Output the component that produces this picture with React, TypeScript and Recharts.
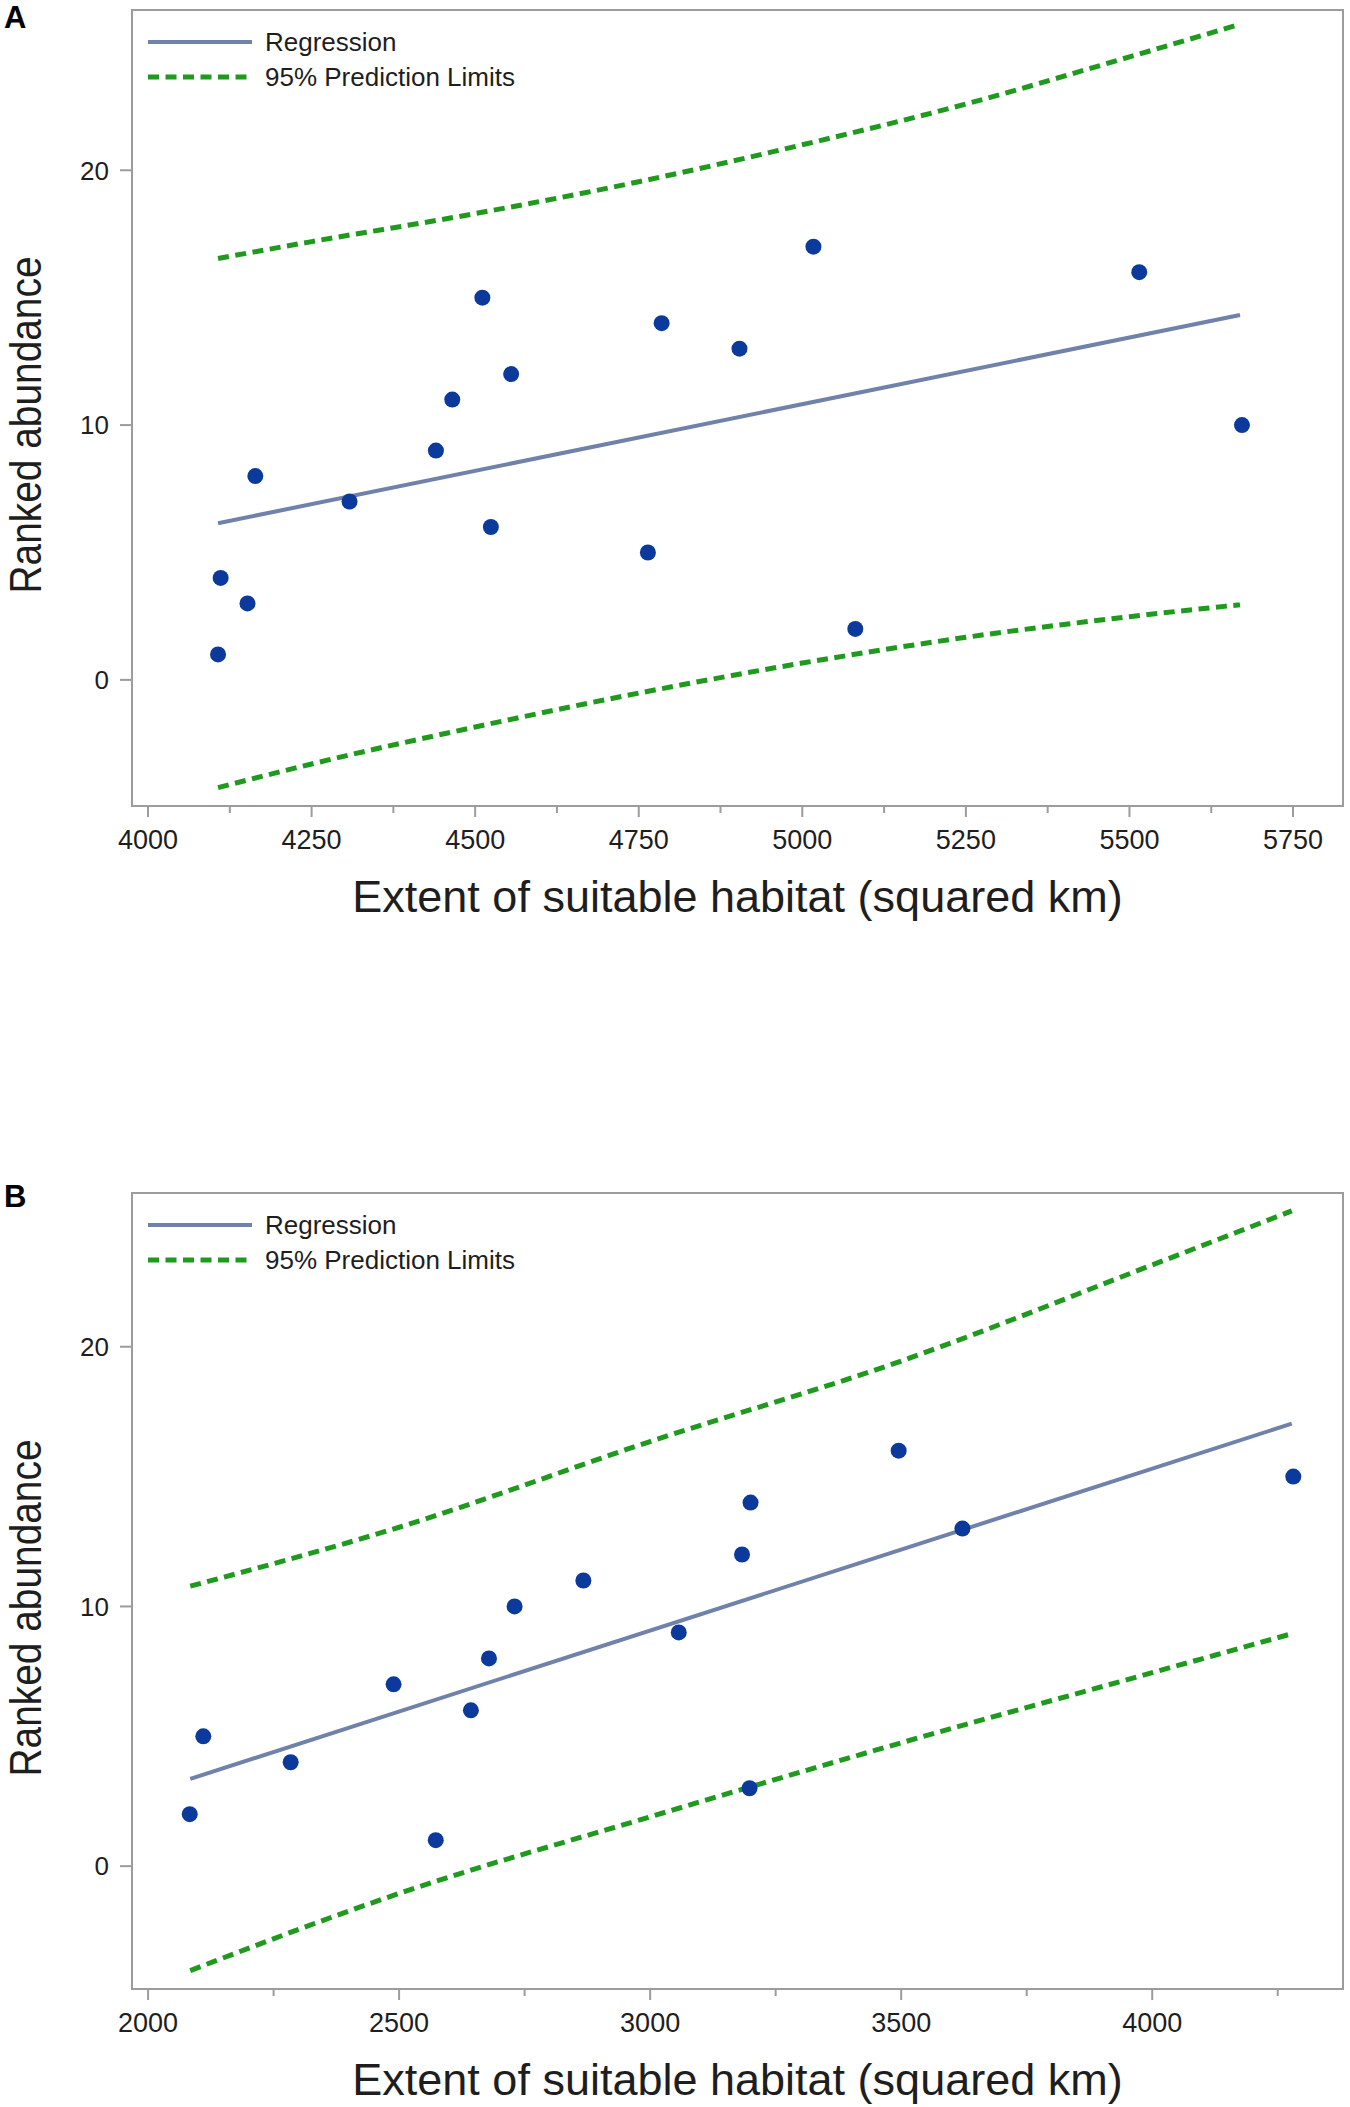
// Two regression panels: ranked abundance vs extent of suitable habitat
// Scatter points, fitted line and 95% prediction limits drawn with Recharts

import {
  ComposedChart,
  Scatter,
  Line,
  XAxis,
  YAxis,
  ReferenceArea,
  Legend,
} from "recharts";

const FONT = '"Liberation Sans", Arial, Helvetica, sans-serif';
const DOT = "#0b3a9c";
const FIT = "#7082aa";
const LIMIT = "#1f9a1f";
const FRAME = "#9c9c9c";
const TEXT = "#1e1e1e";

// Panel A
const habitatA = [4107, 4111, 4152, 4164, 4308, 4440, 4465, 4511, 4524, 4555, 4764, 4785, 4904, 5017, 5081, 5515, 5672];
const rankA = [1, 4, 3, 8, 7, 9, 11, 15, 6, 12, 5, 14, 13, 17, 2, 16, 10];
const fitXA = [4107, 5669];
const fitA = [6.15, 14.32];
const limitXA = [4107, 4250, 4500, 4750, 5000, 5250, 5500, 5669];
const upperA = [16.54, 17.2, 18.3, 19.55, 21.0, 22.6, 24.45, 25.73];
const lowerA = [-4.23, -3.3, -1.85, -0.52, 0.66, 1.67, 2.48, 2.95];
const majorTicksA = [4000, 4250, 4500, 4750, 5000, 5250, 5500, 5750];
const minorTicksA = [4125, 4375, 4625, 4875, 5125, 5375, 5625];

// Panel B
const habitatB = [2083, 2110, 2284, 2489, 2573, 2643, 2679, 2730, 2867, 3057, 3183, 3200, 3198, 3495, 3622, 4281];
const rankB = [2, 5, 4, 7, 1, 6, 8, 10, 11, 9, 12, 14, 3, 16, 13, 15];
const fitXB = [2084, 4278];
const fitB = [3.36, 17.04];
const limitXB = [2084, 2500, 3000, 3500, 4000, 4278];
const upperB = [10.78, 13.05, 16.35, 19.45, 23.15, 25.23];
const lowerB = [-4.02, -1.05, 1.9, 4.75, 7.45, 8.95];
const majorTicksB = [2000, 2500, 3000, 3500, 4000];
const minorTicksB = [2250, 2750, 3250, 3750, 4250];

const yTicks = [0, 10, 20];

const CHART_W = 1350;
const CHART_H = 932;
const Y_AXIS_W = 132;
const X_AXIS_H = 126;
const MARGIN = { top: 10, right: 7, bottom: 0, left: 0 };
const PLOT_TOP = MARGIN.top;
const PLOT_BOTTOM = CHART_H - X_AXIS_H;
const PLOT_MID_X = (Y_AXIS_W + CHART_W - MARGIN.right) / 2;

const toPoints = (xs: number[], ys: number[]) => xs.map((x, i) => ({ x, y: ys[i] }));

const makeXTick = (majors: number[]) => (props: any) => {
  const { x, y, payload } = props;
  const major = majors.includes(payload.value);
  return (
    <g>
      <line x1={x} x2={x} y1={y} y2={y + (major ? 11 : 7)} stroke={FRAME} strokeWidth={2} />
      {major && (
        <text x={x} y={y + 24} dy="0.71em" textAnchor="middle" fontSize={27} fill={TEXT} fontFamily={FONT}>
          {payload.value}
        </text>
      )}
    </g>
  );
};

const YTick = (props: any) => {
  const { x, y, payload } = props;
  return (
    <g>
      <line x1={x - 12} x2={x} y1={y} y2={y} stroke={FRAME} strokeWidth={2} />
      <text x={x - 23} y={y} dy="0.355em" textAnchor="end" fontSize={26} fill={TEXT} fontFamily={FONT}>
        {payload.value}
      </text>
    </g>
  );
};

const XTitle = () => (
  <text x={PLOT_MID_X} y={PLOT_BOTTOM + 106} textAnchor="middle" fontSize={45} fill={TEXT} fontFamily={FONT}>
    Extent of suitable habitat (squared km)
  </text>
);

const YTitle = () => {
  const cx = 25;
  const cy = (PLOT_TOP + PLOT_BOTTOM) / 2 + 17;
  return (
    <text
      x={cx}
      y={cy}
      transform={`rotate(-90, ${cx}, ${cy})`}
      textAnchor="middle"
      dominantBaseline="central"
      fontSize={44}
      textLength={337}
      lengthAdjust="spacingAndGlyphs"
      fill={TEXT}
      fontFamily={FONT}
    >
      Ranked abundance
    </text>
  );
};

const LegendBox = () => (
  <svg width={420} height={75} style={{ display: "block" }}>
    <line x1={2} x2={106} y1={18} y2={18} stroke={FIT} strokeWidth={4} />
    <text x={119} y={18} dy="0.355em" fontSize={26} fill={TEXT} fontFamily={FONT}>
      Regression
    </text>
    <line x1={2} x2={106} y1={53} y2={53} stroke={LIMIT} strokeWidth={5} strokeDasharray="11 6.5" />
    <text x={119} y={53} dy="0.355em" fontSize={26} fill={TEXT} fontFamily={FONT}>
      95% Prediction Limits
    </text>
  </svg>
);

const Dot = (props: any) => <circle cx={props.cx} cy={props.cy} r={8} fill={DOT} />;

type PanelProps = {
  letter: string;
  letterTop: number;
  top: number;
  xs: number[];
  ranks: number[];
  fitX: number[];
  fit: number[];
  limitX: number[];
  upper: number[];
  lower: number[];
  xDomain: [number, number];
  yDomain: [number, number];
  majors: number[];
  minors: number[];
};

function Panel(p: PanelProps) {
  const ticks = [...p.majors, ...p.minors].sort((a, b) => a - b);
  return (
    <div style={{ position: "absolute", left: 0, top: p.top, width: CHART_W, height: CHART_H }}>
      <div
        style={{
          position: "absolute",
          left: 4,
          top: p.letterTop,
          fontFamily: FONT,
          fontWeight: "bold",
          fontSize: 31,
          lineHeight: "31px",
          color: "#000",
        }}
      >
        {p.letter}
      </div>
      <ComposedChart width={CHART_W} height={CHART_H} margin={MARGIN}>
        <ReferenceArea
          x1={p.xDomain[0]}
          x2={p.xDomain[1]}
          y1={p.yDomain[0]}
          y2={p.yDomain[1]}
          fill="none"
          stroke={FRAME}
          strokeWidth={2}
          ifOverflow="visible"
        />
        <XAxis
          type="number"
          dataKey="x"
          domain={p.xDomain}
          allowDataOverflow
          ticks={ticks}
          interval={0}
          height={X_AXIS_H}
          axisLine={false}
          tickLine={false}
          tickSize={0}
          tickMargin={0}
          tick={makeXTick(p.majors)}
          label={{ content: () => <XTitle /> }}
        />
        <YAxis
          type="number"
          dataKey="y"
          domain={p.yDomain}
          allowDataOverflow
          ticks={yTicks}
          interval={0}
          width={Y_AXIS_W}
          axisLine={false}
          tickLine={false}
          tickSize={0}
          tickMargin={0}
          tick={YTick}
          label={{ content: () => <YTitle /> }}
        />
        <Line
          data={toPoints(p.limitX, p.upper)}
          dataKey="y"
          type="monotone"
          stroke={LIMIT}
          strokeWidth={5}
          strokeDasharray="11 6.5"
          dot={false}
          activeDot={false}
          isAnimationActive={false}
        />
        <Line
          data={toPoints(p.limitX, p.lower)}
          dataKey="y"
          type="monotone"
          stroke={LIMIT}
          strokeWidth={5}
          strokeDasharray="11 6.5"
          dot={false}
          activeDot={false}
          isAnimationActive={false}
        />
        <Line
          data={toPoints(p.fitX, p.fit)}
          dataKey="y"
          type="linear"
          stroke={FIT}
          strokeWidth={4}
          dot={false}
          activeDot={false}
          isAnimationActive={false}
        />
        <Scatter data={toPoints(p.xs, p.ranks)} shape={Dot} isAnimationActive={false} />
        <Legend
          layout="vertical"
          align="center"
          verticalAlign="middle"
          wrapperStyle={{ left: 146, top: 24, width: 420, height: 75 }}
          content={() => <LegendBox />}
        />
      </ComposedChart>
    </div>
  );
}

export default function App() {
  return (
    <div
      style={{
        position: "absolute",
        left: 0,
        top: 0,
        width: 1350,
        height: 2107,
        overflow: "hidden",
        background: "#fff",
      }}
    >
      <Panel
        letter="A"
        letterTop={2}
        top={0}
        xs={habitatA}
        ranks={rankA}
        fitX={fitXA}
        fit={fitA}
        limitX={limitXA}
        upper={upperA}
        lower={lowerA}
        xDomain={[3975.5, 5826.4]}
        yDomain={[-4.95, 26.29]}
        majors={majorTicksA}
        minors={minorTicksA}
      />
      <Panel
        letter="B"
        letterTop={-2}
        top={1183}
        xs={habitatB}
        ranks={rankB}
        fitX={fitXB}
        fit={fitB}
        limitX={limitXB}
        upper={upperB}
        lower={lowerB}
        xDomain={[1968, 4380]}
        yDomain={[-4.73, 25.92]}
        majors={majorTicksB}
        minors={minorTicksB}
      />
    </div>
  );
}
